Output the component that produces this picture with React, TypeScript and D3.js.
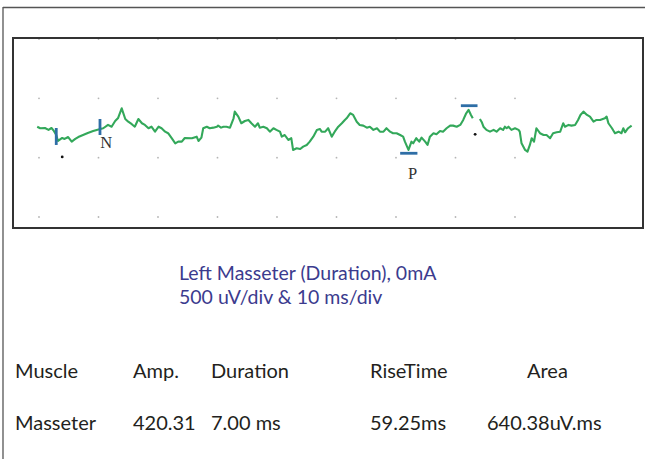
import React from 'react';
import * as d3 from 'd3';

// Trace samples: time (ms) and amplitude (uV); NaN marks the gap in the trace
const timeMs = [
  -0.3, 0.2, 1.0, 1.6, 2.1, 2.5, 2.9, 3.2, 3.9, 4.3, 4.9, 5.5, 6.1, 6.6, 7.4, 8.2, 9.1, 9.7, 10.3, 10.8,
  11.6, 12.2, 12.8, 13.3, 13.9, 14.5, 15.0, 15.6, 16.1, 16.7, 17.3, 17.8, 18.4, 18.9, 19.5, 20.1, 20.6, 21.2, 21.7, 22.3,
  22.9, 23.4, 24.0, 24.5, 25.7, 26.5, 26.8, 27.3, 27.6, 28.2, 28.7, 29.3, 29.9, 30.1, 30.6, 31.0, 31.5, 32.1, 32.7, 32.9,
  33.5, 34.0, 34.6, 35.2, 35.7, 36.3, 36.8, 37.1, 37.7, 38.3, 38.8, 39.4, 39.9, 40.5, 40.8, 41.3, 41.9, 42.4, 42.7, 43.3,
  43.9, 44.4, 45.0, 45.5, 46.1, 46.7, 47.2, 47.5, 48.1, 48.6, 49.2, 49.7, 50.3, 50.9, 51.4, 51.7, 52.3, 52.8, 53.4, 53.9,
  54.5, 55.1, 55.6, 56.2, 56.8, 57.3, 57.9, 58.4, 59.0, 59.5, 60.1, 60.7, 61.2, 61.5, 62.1, 62.6, 62.9, 63.4, 63.9, 64.3,
  64.9, 65.3, 65.7, 66.3, 66.8, 67.4, 67.9, 68.5, 69.1, 69.6, 70.2, 70.8, 71.3, 71.8, 72.2, 72.6, 72.9, 73.5,
  74.1, 74.4, 74.7, 75.2, 75.8, 76.4, 76.9, 77.5, 78.0, 78.3, 78.6, 78.9, 79.4, 80.0, 80.6, 80.8, 81.1, 81.7, 82.1, 82.5,
  82.8, 83.2, 83.6, 84.2, 84.8, 85.3, 85.9, 86.4, 87.0, 87.6, 88.1, 88.4, 89.0, 89.5, 90.1, 90.6, 91.0, 91.5, 92.1, 92.6,
  93.2, 93.7, 94.3, 95.1, 95.4, 95.7, 96.3, 96.8, 97.4, 97.9, 98.2, 98.5, 99.0, 99.6,
];
const amplitudeUv = [
  261, 248, 250, 234, 250, 225, 191, 141, 166, 158, 174, 135, 158, 174, 191, 208, 225, 234, 242, 248,
  276, 261, 309, 335, 416, 326, 303, 282, 261, 326, 290, 276, 248, 261, 219, 261, 248, 219, 206, 164,
  121, 135, 135, 166, 164, 177, 141, 169, 248, 261, 248, 253, 261, 270, 253, 261, 261, 253, 332, 388,
  346, 290, 309, 318, 290, 261, 290, 253, 261, 248, 219, 248, 234, 219, 177, 191, 149, 164, 65, 79,
  73, 93, 107, 135, 177, 234, 242, 219, 219, 248, 177, 219, 261, 290, 318, 332, 374, 360, 303, 276,
  270, 253, 261, 234, 248, 219, 219, 248, 219, 206, 206, 191, 177, 135, 65, 135, 121, 164, 135, 169,
  135, 107, 177, 206, 197, 225, 219, 248, 270, 270, 261, 276, 318, 374, 402, 360, 332, NaN,
  326, 301, 261, 234, 219, 234, 219, 248, 234, 261, 248, 261, 234, 248, 234, 219, 121, 65, 51, 107,
  164, 135, 248, 206, 191, 191, 164, 206, 214, 219, 290, 261, 276, 270, 276, 318, 360, 388, 360, 346,
  303, 318, 318, 332, 346, 290, 248, 206, 219, 206, 248, 214, 248, 270,
];

// Grid (10 ms/div, 500 uV/div)
const gridTimes = [0, 10, 20, 30, 40, 50, 60, 70, 80];
const gridLevels = [1000, 500, 0, -500];

// Cursors: vertical onset / N markers, horizontal P / peak markers
const vMarkerTimes = [2.9, 10.25];
const vMarkerLow = [107, 191];
const vMarkerHigh = [250, 326];
const hMarkerStart = [60.7, 70.9];
const hMarkerEnd = [63.6, 73.7];
const hMarkerLevel = [37, 438];
const dotTimes = [3.9, 73.3];
const dotLevels = [6, 197];
const labelNames = ['N', 'P'];
const labelTimes = [10.3, 62.0];
const labelLevels = [80, -180];

const titleLines = ['Left Masseter (Duration), 0mA', '500 uV/div & 10 ms/div'];
const tableHeaders = ['Muscle', 'Amp.', 'Duration', 'RiseTime', 'Area'];
const tableRow = ['Masseter', '420.31', '7.00 ms', '59.25ms', '640.38uV.ms'];

export default function App() {
  const W = 645;
  const H = 459;
  const x = d3.scaleLinear().domain([0, 100]).range([39, 634]);
  const y = d3.scaleLinear().domain([-500, 1000]).range([217, 39]);

  const pts: [number, number][] = timeMs.map((t, i) => [t, amplitudeUv[i]]);
  const line = d3
    .line<[number, number]>()
    .defined((d) => !isNaN(d[1]))
    .x((d) => x(d[0]))
    .y((d) => y(d[1]));

  const boxLeft = 13;
  const boxRight = 643;
  const boxTop = y(1000) - 1;
  const boxBottom = 228;

  const font = 'Lato, "Open Sans", sans-serif';
  const colX = [15, 133, 211, 370, 527];
  const rowX = [15, 133, 211, 370, 487];

  return (
    <svg
      width={W}
      height={H}
      style={{ position: 'absolute', left: 0, top: 0, background: '#fff' }}
    >
      {/* outer frame */}
      <line x1={3} y1={7.5} x2={W} y2={7.5} stroke="#555" strokeWidth={1.3} />
      <line x1={3} y1={7} x2={3} y2={H} stroke="#555" strokeWidth={1.3} />

      {/* grid dots */}
      {gridLevels.map((lv) =>
        gridTimes.map((t) => (
          <circle key={`g${lv}-${t}`} cx={x(t)} cy={y(lv)} r={0.9} fill="#b5b5b5" />
        ))
      )}

      {/* trace box */}
      <rect
        x={boxLeft}
        y={boxTop}
        width={boxRight - boxLeft}
        height={boxBottom - boxTop}
        fill="none"
        stroke="#333"
        strokeWidth={2}
      />

      {/* trace */}
      <path d={line(pts) || ''} fill="none" stroke="#33a85a" strokeWidth={2.1} strokeLinejoin="round" />

      {/* markers */}
      {vMarkerTimes.map((t, i) => (
        <line
          key={`vm${i}`}
          x1={x(t)}
          x2={x(t)}
          y1={y(vMarkerLow[i])}
          y2={y(vMarkerHigh[i])}
          stroke="#2e6ea6"
          strokeWidth={2.8}
        />
      ))}
      {hMarkerLevel.map((lv, i) => (
        <line
          key={`hm${i}`}
          x1={x(hMarkerStart[i])}
          x2={x(hMarkerEnd[i])}
          y1={y(lv)}
          y2={y(lv)}
          stroke="#2e6ea6"
          strokeWidth={2.8}
        />
      ))}
      {dotTimes.map((t, i) => (
        <circle key={`d${i}`} cx={x(t)} cy={y(dotLevels[i])} r={1.4} fill="#111" />
      ))}
      {labelNames.map((n, i) => (
        <text
          key={`l${i}`}
          x={x(labelTimes[i])}
          y={y(labelLevels[i])}
          fontFamily='"Liberation Serif", "DejaVu Serif", serif'
          fontSize={16.5}
          fill="#333"
        >
          {n}
        </text>
      ))}

      {/* title */}
      {titleLines.map((s, i) => (
        <text key={`t${i}`} x={179} y={280 + i * 24} fontFamily={font} fontSize={19.5} fill="#3b3b8e">
          {s}
        </text>
      ))}

      {/* table */}
      {tableHeaders.map((s, i) => (
        <text key={`h${i}`} x={colX[i]} y={378} fontFamily={font} fontSize={20} fill="#231f20">
          {s}
        </text>
      ))}
      {tableRow.map((s, i) => (
        <text key={`r${i}`} x={rowX[i]} y={430} fontFamily={font} fontSize={20} fill="#231f20">
          {s}
        </text>
      ))}
    </svg>
  );
}
